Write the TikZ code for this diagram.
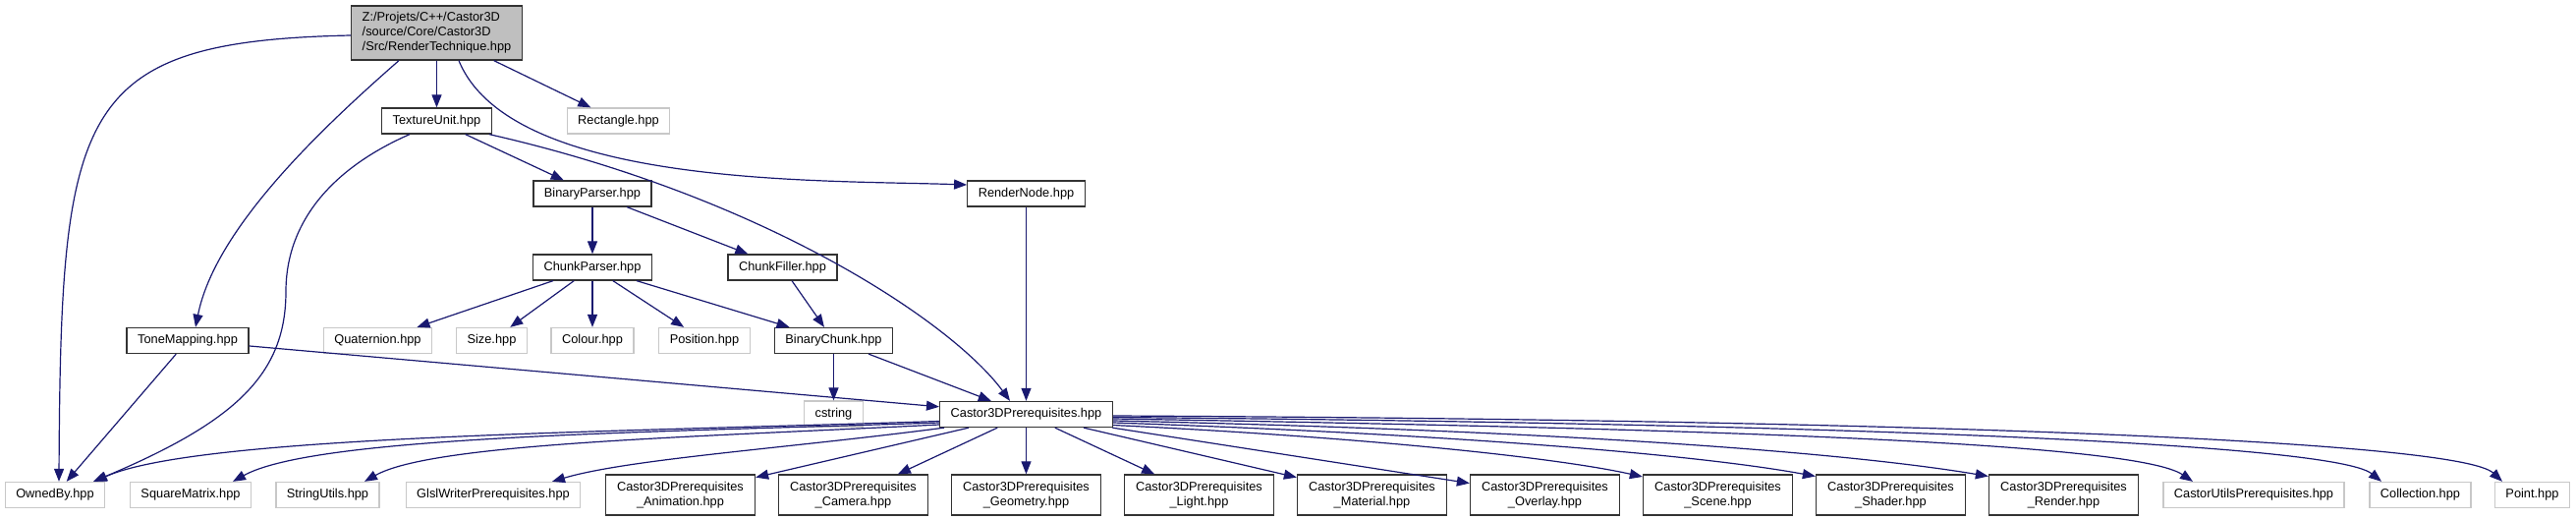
\documentclass[tikz,border=0pt]{standalone}
\usepackage{fontspec}
\setmainfont{Liberation Sans}
\usetikzlibrary{arrows.meta, calc}

\definecolor{edgeblue}{HTML}{191970}
\definecolor{rootgray}{HTML}{BFBFBF}
\definecolor{extgray}{HTML}{C8C8C8}

\begin{document}
\begin{tikzpicture}[
		x=1pt, y=-1pt,
		font=\fontsize{12.8}{15}\selectfont,
		% Styles
		fileBox/.style={draw=black!80, fill=white, line width=1.3pt, inner xsep=11pt, inner ysep=3pt, minimum height=26pt},
		rootBox/.style={fileBox, fill=rootgray, align=left, minimum height=55pt},
		extBox/.style={fileBox, draw=extgray},
		partBox/.style={fileBox, align=center, minimum width=152pt, minimum height=41pt},
		includeArrow/.style={-{Triangle[length=13pt, width=10pt]}, draw=edgeblue, line width=1.2pt}
		]
		
		\useasboundingbox (0,0) rectangle (2622,529);
		
		% =========================================================
		% 1. HEADER FILES
		% =========================================================
		\node[rootBox] (RenderTechnique) at (444.5,33.5) {Z:/Projets/C++/Castor3D\\/source/Core/Castor3D\\/Src/RenderTechnique.hpp};
		
		\node[fileBox] (TextureUnit) at (444.5,123) {TextureUnit.hpp};
		\node[extBox] (Rectangle) at (629.5,123) {Rectangle.hpp};
		\node[fileBox] (BinaryParser) at (603,197) {BinaryParser.hpp};
		\node[fileBox] (RenderNode) at (1044.5,197) {RenderNode.hpp};
		\node[fileBox] (ChunkParser) at (603,272) {ChunkParser.hpp};
		\node[fileBox] (ChunkFiller) at (796.5,272) {ChunkFiller.hpp};
		
		\node[fileBox] (ToneMapping) at (191,346.5) {ToneMapping.hpp};
		\node[extBox] (Quaternion) at (384.5,346.5) {Quaternion.hpp};
		\node[extBox] (Size) at (500.5,346.5) {Size.hpp};
		\node[extBox] (Colour) at (603,346.5) {Colour.hpp};
		\node[extBox] (Position) at (717,346.5) {Position.hpp};
		\node[fileBox] (BinaryChunk) at (848.5,346.5) {BinaryChunk.hpp};
		
		\node[extBox] (cstring) at (848.5,421) {cstring};
		\node[fileBox] (Prerequisites) at (1044.5,421.5) {Castor3DPrerequisites.hpp};
		
		% =========================================================
		% 2. BOTTOM ROW
		% =========================================================
		\node[extBox] (OwnedBy) at (56,503.5) {OwnedBy.hpp};
		\node[extBox] (SquareMatrix) at (194,503.5) {SquareMatrix.hpp};
		\node[extBox] (StringUtils) at (333.5,503.5) {StringUtils.hpp};
		\node[extBox] (GlslWriter) at (502,503.5) {GlslWriterPrerequisites.hpp};
		
		\node[partBox] (PreAnimation) at (692.5,503.5) {Castor3DPrerequisites\\\_Animation.hpp};
		\node[partBox] (PreCamera) at (868.5,503.5) {Castor3DPrerequisites\\\_Camera.hpp};
		\node[partBox] (PreGeometry) at (1044.5,503.5) {Castor3DPrerequisites\\\_Geometry.hpp};
		\node[partBox] (PreLight) at (1220.5,503.5) {Castor3DPrerequisites\\\_Light.hpp};
		\node[partBox] (PreMaterial) at (1396.5,503.5) {Castor3DPrerequisites\\\_Material.hpp};
		\node[partBox] (PreOverlay) at (1572.5,503.5) {Castor3DPrerequisites\\\_Overlay.hpp};
		\node[partBox] (PreScene) at (1748.5,503.5) {Castor3DPrerequisites\\\_Scene.hpp};
		\node[partBox] (PreShader) at (1924.5,503.5) {Castor3DPrerequisites\\\_Shader.hpp};
		\node[partBox] (PreRender) at (2100.5,503.5) {Castor3DPrerequisites\\\_Render.hpp};
		
		\node[extBox] (CastorUtils) at (2294,503.5) {CastorUtilsPrerequisites.hpp};
		\node[extBox] (Collection) at (2463.5,503.5) {Collection.hpp};
		\node[extBox] (Point) at (2577.5,503.5) {Point.hpp};
		
		% =========================================================
		% 3. INCLUDES OF THE UPPER FILES
		% =========================================================
		\draw[includeArrow] ($(RenderTechnique.west)+(0,2.5)$) .. controls +(-280,6) and +(2,-380) .. ($(OwnedBy.north)+(4,0)$);
		\draw[includeArrow] (RenderTechnique) -- (TextureUnit);
		\draw[includeArrow] (RenderTechnique) -- (Rectangle);
		\draw[includeArrow] ($(RenderTechnique.south)+(22.5,0)$) .. controls +(53,129) and +(-150,-5) .. ($(RenderNode.west)+(0,-9)$);
		\draw[includeArrow] ($(RenderTechnique.south)+(-38.5,0)$) .. controls +(-80,70) and +(20,-100) .. ($(ToneMapping.north)+(8,0)$);
		
		\draw[includeArrow] (TextureUnit) -- (BinaryParser);
		\draw[includeArrow] ($(TextureUnit.south)+(53.5,0)$) .. controls +(282,64) and +(-58,-79) .. ($(Prerequisites.north)+(-16.5,0)$);
		\draw[includeArrow] ($(TextureUnit.south)+(-27.5,0)$) .. controls +(-80,35) and +(0,-70) .. ++(-126,160) .. controls +(0,84) and +(145,-61) .. ($(OwnedBy.north)+(39,0)$);
		
		\draw[includeArrow] (BinaryParser) -- (ChunkParser);
		\draw[includeArrow] (BinaryParser) -- (ChunkFiller);
		\draw[includeArrow] (ChunkParser) -- (Quaternion);
		\draw[includeArrow] (ChunkParser) -- (Size);
		\draw[includeArrow] (ChunkParser) -- (Colour);
		\draw[includeArrow] (ChunkParser) -- (Position);
		\draw[includeArrow] (ChunkParser) -- (BinaryChunk);
		\draw[includeArrow] (ChunkFiller) -- (BinaryChunk);
		\draw[includeArrow] (BinaryChunk) -- (cstring);
		\draw[includeArrow] (BinaryChunk) -- (Prerequisites);
		\draw[includeArrow] (RenderNode) -- (Prerequisites);
		\draw[includeArrow] (ToneMapping) -- (OwnedBy);
		\draw[includeArrow] (ToneMapping) -- (Prerequisites);
		
		% =========================================================
		% 4. INCLUDES OF Castor3DPrerequisites.hpp
		% =========================================================
		\draw[includeArrow] ($(Prerequisites.west)+(0,7)$) .. controls +(-355.5,11.5) and +(104,-46) .. ($(OwnedBy.north)+(40,0)$);
		\draw[includeArrow] ($(Prerequisites.west)+(0,8.5)$) .. controls +(-305.5,10) and +(83,-46) .. ($(SquareMatrix.north)+(43,0)$);
		\draw[includeArrow] ($(Prerequisites.west)+(0,10.5)$) .. controls +(-255.5,13) and +(69,-39) .. ($(StringUtils.north)+(37.5,0)$);
		\draw[includeArrow] ($(Prerequisites.south west)+(5,0)$) .. controls +(-160.5,21) and +(78,-23) .. ($(GlslWriter.north)+(60,0)$);
		
		\draw[includeArrow] (Prerequisites) -- (PreAnimation);
		\draw[includeArrow] (Prerequisites) -- (PreCamera);
		\draw[includeArrow] (Prerequisites) -- (PreGeometry);
		\draw[includeArrow] (Prerequisites) -- (PreLight);
		\draw[includeArrow] (Prerequisites) -- (PreMaterial);
		\draw[includeArrow] (Prerequisites) -- (PreOverlay);
		
		\draw[includeArrow] ($(Prerequisites.east)+(0,11)$) .. controls +(250,12) and +(-90,-20) .. ($(PreScene.west)+(0,-18.5)$);
		\draw[includeArrow] ($(Prerequisites.east)+(0,8.5)$) .. controls +(350,12) and +(-120,-22) .. ($(PreShader.west)+(0,-19)$);
		\draw[includeArrow] ($(Prerequisites.east)+(0,6.5)$) .. controls +(450,10) and +(-150,-25) .. ($(PreRender.west)+(0,-19)$);
		\draw[includeArrow] ($(Prerequisites.east)+(0,4.5)$) .. controls +(600,10) and +(-60,-40) .. ($(CastorUtils.north)+(-62,0)$);
		\draw[includeArrow] ($(Prerequisites.east)+(0,3)$) .. controls +(700,6) and +(-50,-40) .. ($(Collection.north)+(-39.5,0)$);
		\draw[includeArrow] ($(Prerequisites.east)+(0,1.5)$) .. controls +(800,4) and +(-45,-42) .. ($(Point.north)+(-30.5,0)$);
		
	\end{tikzpicture}
\end{document}
